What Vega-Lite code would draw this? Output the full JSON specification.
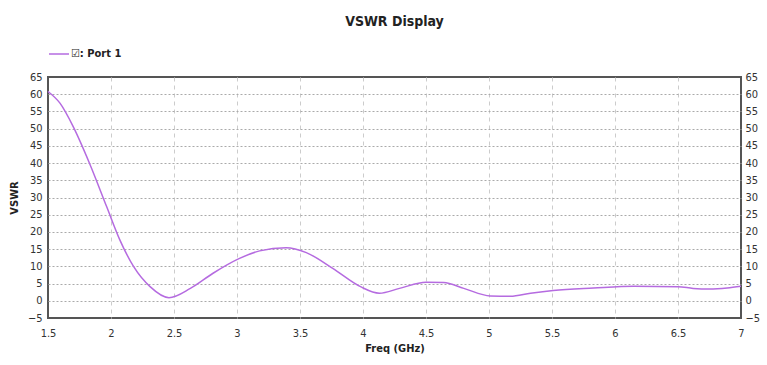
{
  "$schema": "https://vega.github.io/schema/vega-lite/v6.json",
  "width": 693,
  "height": 241,
  "autosize": "none",
  "padding": {"left": 48, "top": 77, "right": 26, "bottom": 47},
  "background": "white",
  "title": {"text": "VSWR Display", "fontSize": 14, "font": "DejaVu Sans Condensed, Liberation Sans", "fontWeight": "bold", "color": "#222", "anchor": "middle", "frame": "group", "offset": 14},
  "data": {"values": [
    {"freq": 1.5, "vswr": 60.8, "series": "☑: Port 1"},
    {"freq": 1.595, "vswr": 57.4, "series": "☑: Port 1"},
    {"freq": 1.70, "vswr": 50.6, "series": "☑: Port 1"},
    {"freq": 1.83, "vswr": 39.9, "series": "☑: Port 1"},
    {"freq": 1.966, "vswr": 27.3, "series": "☑: Port 1"},
    {"freq": 2.07, "vswr": 17.7, "series": "☑: Port 1"},
    {"freq": 2.18, "vswr": 9.9, "series": "☑: Port 1"},
    {"freq": 2.31, "vswr": 4.1, "series": "☑: Port 1"},
    {"freq": 2.46, "vswr": 0.9, "series": "☑: Port 1"},
    {"freq": 2.63, "vswr": 3.6, "series": "☑: Port 1"},
    {"freq": 2.81, "vswr": 8.0, "series": "☑: Port 1"},
    {"freq": 3.02, "vswr": 12.3, "series": "☑: Port 1"},
    {"freq": 3.18, "vswr": 14.5, "series": "☑: Port 1"},
    {"freq": 3.39, "vswr": 15.4, "series": "☑: Port 1"},
    {"freq": 3.55, "vswr": 14.0, "series": "☑: Port 1"},
    {"freq": 3.76, "vswr": 9.4, "series": "☑: Port 1"},
    {"freq": 3.98, "vswr": 4.1, "series": "☑: Port 1"},
    {"freq": 4.13, "vswr": 2.2, "series": "☑: Port 1"},
    {"freq": 4.29, "vswr": 3.6, "series": "☑: Port 1"},
    {"freq": 4.5, "vswr": 5.4, "series": "☑: Port 1"},
    {"freq": 4.64, "vswr": 5.3, "series": "☑: Port 1"},
    {"freq": 4.80, "vswr": 3.6, "series": "☑: Port 1"},
    {"freq": 5.01, "vswr": 1.4, "series": "☑: Port 1"},
    {"freq": 5.17, "vswr": 1.3, "series": "☑: Port 1"},
    {"freq": 5.33, "vswr": 2.2, "series": "☑: Port 1"},
    {"freq": 5.51, "vswr": 3.0, "series": "☑: Port 1"},
    {"freq": 5.83, "vswr": 3.7, "series": "☑: Port 1"},
    {"freq": 6.15, "vswr": 4.2, "series": "☑: Port 1"},
    {"freq": 6.5, "vswr": 4.1, "series": "☑: Port 1"},
    {"freq": 6.62, "vswr": 3.6, "series": "☑: Port 1"},
    {"freq": 6.75, "vswr": 3.4, "series": "☑: Port 1"},
    {"freq": 6.89, "vswr": 3.7, "series": "☑: Port 1"},
    {"freq": 7.0, "vswr": 4.2, "series": "☑: Port 1"}
  ]},
  "config": {
    "view": {"stroke": "#555", "strokeWidth": 2},
    "axis": {"labelFont": "DejaVu Sans Condensed, Liberation Sans", "labelFontSize": 11, "labelColor": "#333", "titleFont": "DejaVu Sans Condensed, Liberation Sans", "titleFontSize": 11, "titleFontWeight": "bold", "titleColor": "#222", "ticks": false, "domain": false}
  },
  "layer": [
    {
      "mark": {"type": "line", "strokeWidth": 1.5, "interpolate": "monotone"},
      "encoding": {
        "x": {"field": "freq", "type": "quantitative", "scale": {"domain": [1.5, 7], "nice": false, "zero": false},
              "axis": {"title": "Freq (GHz)", "format": ".2~f", "values": [1.5, 2, 2.5, 3, 3.5, 4, 4.5, 5, 5.5, 6, 6.5, 7], "labelPadding": 9, "titlePadding": 4, "gridColor": "#ccc", "gridDash": [4, 4], "gridOpacity": {"condition": {"test": "datum.value == 1.5 || datum.value == 7", "value": 0}, "value": 1}, "labelFlush": false}},
        "y": {"field": "vswr", "type": "quantitative", "scale": {"domain": [-5, 65], "nice": false, "zero": false},
              "axis": {"title": "VSWR", "orient": "left", "values": [-5, 0, 5, 10, 15, 20, 25, 30, 35, 40, 45, 50, 55, 60, 65], "labelPadding": 6, "titlePadding": 8, "gridColor": "#aaa", "gridDash": [2, 2], "gridOpacity": {"condition": {"test": "datum.value == 65 || datum.value == -5", "value": 0}, "value": 1}, "labelFlush": false}},
        "color": {"field": "series", "type": "nominal", "scale": {"range": ["#b56be0"]},
                  "legend": {"title": null, "orient": "none", "legendX": 0, "legendY": -34, "symbolType": "stroke", "symbolSize": 400, "symbolStrokeWidth": 1.5, "labelFont": "DejaVu Sans Condensed, Liberation Sans", "labelFontSize": 11, "labelFontWeight": "bold", "labelColor": "#222", "labelOffset": 1}}
      }
    },
    {
      "mark": {"type": "line", "opacity": 0},
      "encoding": {
        "x": {"field": "freq", "type": "quantitative", "scale": {"domain": [1.5, 7], "nice": false, "zero": false}},
        "y": {"field": "vswr", "type": "quantitative", "scale": {"domain": [-5, 65], "nice": false, "zero": false},
              "axis": {"title": "VSWR", "orient": "right", "grid": false, "values": [-5, 0, 5, 10, 15, 20, 25, 30, 35, 40, 45, 50, 55, 60, 65], "labelPadding": 4, "titlePadding": 6, "labelFlush": false}}
      }
    }
  ],
  "resolve": {"scale": {"y": "independent"}}
}
